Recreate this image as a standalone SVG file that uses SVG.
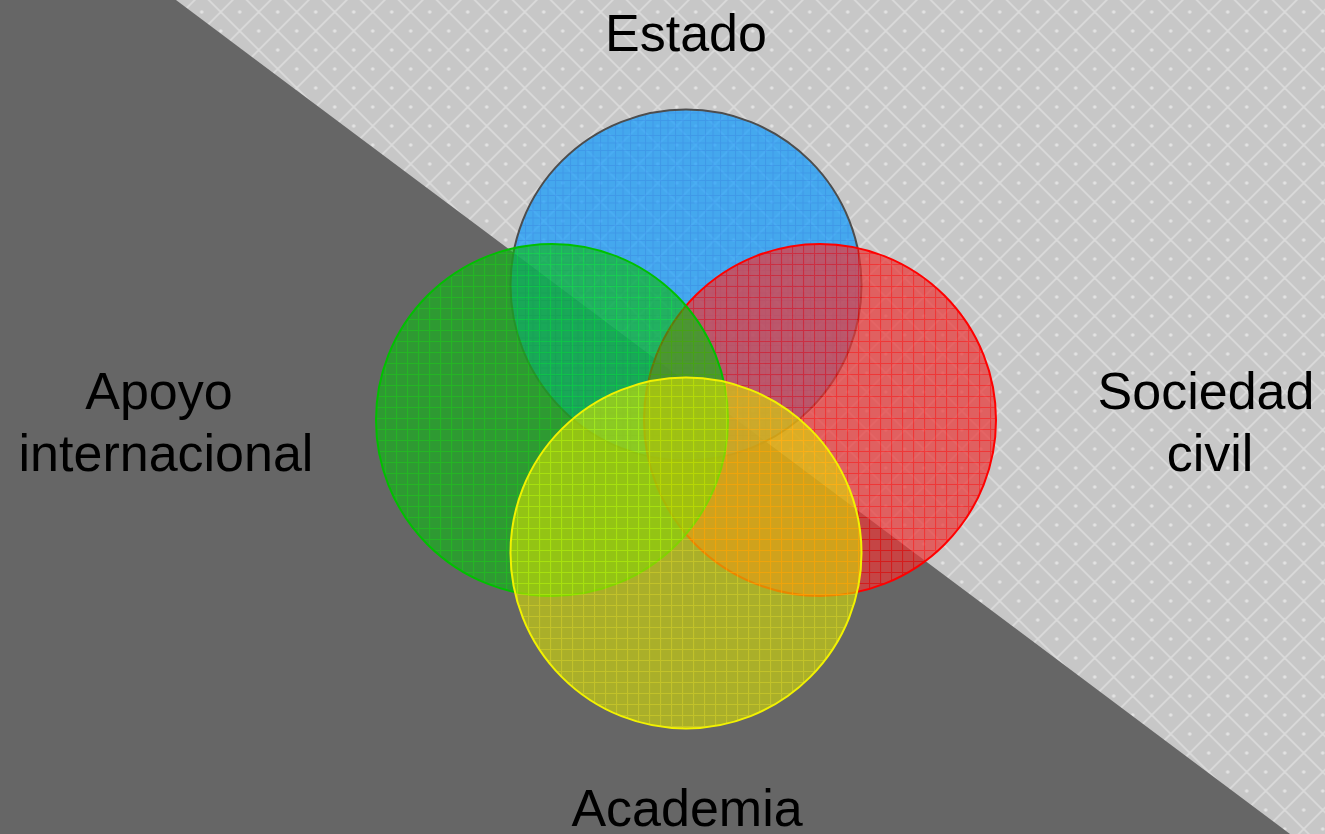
<svg xmlns="http://www.w3.org/2000/svg" width="1325" height="834" viewBox="0 0 1325 834">
  <style>
    .lbl { font-family: "Liberation Sans", Arial, sans-serif; font-size: 52px; fill: #000; text-anchor: middle; }
    .c { stroke-width: 2; }
  </style>
  <defs>
    <pattern id="lattice" x="11.7" y="31" width="38" height="38" patternUnits="userSpaceOnUse">
      <rect width="38" height="38" fill="#c7c7c7"/>
      <path d="M0 0L38 38M38 0L0 38" stroke="#dbdbdb" stroke-width="1.8"/>
      <circle cx="19" cy="0" r="1.8" fill="#e3e3e3"/>
      <circle cx="0" cy="19" r="1.8" fill="#e3e3e3"/>
      <circle cx="38" cy="19" r="1.8" fill="#e3e3e3"/>
      <circle cx="19" cy="38" r="1.8" fill="#e3e3e3"/>
    </pattern>
    <pattern id="gBlue" width="7.5" height="7.5" patternUnits="userSpaceOnUse">
      <rect width="7.5" height="7.5" fill="#129cfd"/>
      <path d="M0 0.5H7.5M0.5 0V7.5" stroke="#0a86f5" stroke-width="1"/>
    </pattern>
    <pattern id="gRed" width="11" height="11" patternUnits="userSpaceOnUse">
      <rect width="11" height="11" fill="#e93838"/>
      <path d="M0 0.5H11M0.5 0V11" stroke="#ff0000" stroke-width="1.2"/>
    </pattern>
    <pattern id="gGreen" width="11" height="11" patternUnits="userSpaceOnUse">
      <rect width="11" height="11" fill="#10b616"/>
      <path d="M0 0.5H11M0.5 0V11" stroke="#00e000" stroke-width="1.2"/>
    </pattern>
    <pattern id="gYellow" width="11" height="11" patternUnits="userSpaceOnUse">
      <rect width="11" height="11" fill="#d7e000"/>
      <path d="M0 0.5H11M0.5 0V11" stroke="#ffff00" stroke-width="1.2"/>
    </pattern>
  </defs>

  <g id="background">
    <rect x="0" y="0" width="1325" height="834" fill="url(#lattice)"/>
    <polygon points="0,0 176,0 1290,834 0,834" fill="#666666"/>
  </g>

  <g id="node-estado">
    <circle class="c" cx="686" cy="285" r="175.5" fill="url(#gBlue)" fill-opacity="0.72" stroke="#4d4d4d"/>
  </g>
  <g id="node-sociedad">
    <circle class="c" cx="820" cy="420" r="176" fill="url(#gRed)" fill-opacity="0.72" stroke="#ff0000"/>
  </g>
  <g id="node-apoyo">
    <circle class="c" cx="552" cy="420" r="176" fill="url(#gGreen)" fill-opacity="0.65" stroke="#00c000"/>
  </g>
  <g id="node-academia">
    <circle class="c" cx="686" cy="553" r="175.5" fill="url(#gYellow)" fill-opacity="0.6" stroke="#f2f200"/>
  </g>

  <g id="connectors"></g>

  <g id="labels">
    <text class="lbl" x="686" y="51">Estado</text>
    <text class="lbl" x="159" y="409">Apoyo</text>
    <text class="lbl" x="166" y="471">internacional</text>
    <text class="lbl" x="1206" y="409">Sociedad</text>
    <text class="lbl" x="1210" y="471">civil</text>
    <text class="lbl" x="687" y="826">Academia</text>
  </g>
</svg>
